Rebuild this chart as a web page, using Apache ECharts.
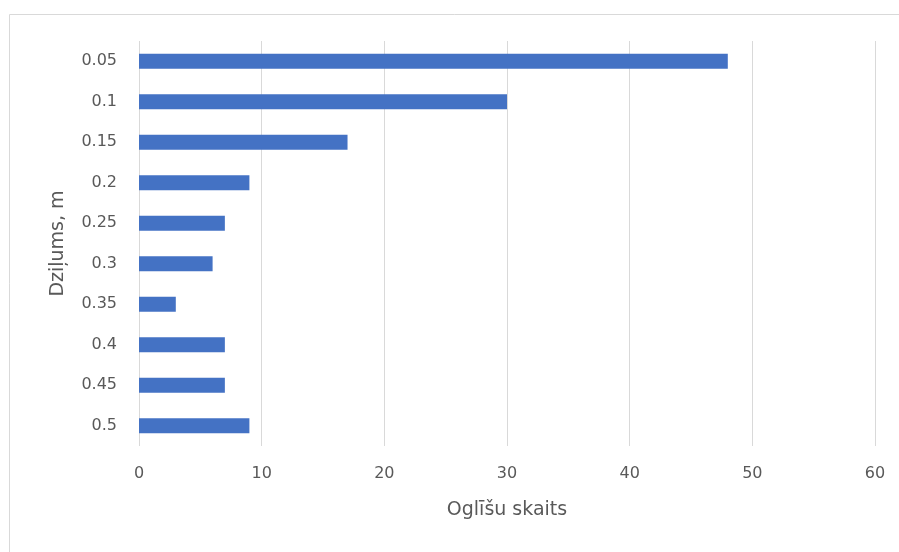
<!DOCTYPE html>
<html><head><meta charset="utf-8">
<script src="https://cdn.jsdelivr.net/npm/echarts@6/dist/echarts.min.js"></script>
<style>html,body{margin:0;padding:0;background:#fff}#c{width:899px;height:552px}</style>
</head><body><div id="c"></div>
<script>
const categories = ['0.05','0.1','0.15','0.2','0.25','0.3','0.35','0.4','0.45','0.5'];
const values = [48, 30, 17, 9, 7, 6, 3, 7, 7, 9];
const xTicks = [0, 10, 20, 30, 40, 50, 60];

const chart = echarts.init(document.getElementById('c'));
const font = '"DejaVu Sans", sans-serif';
chart.setOption({
  animation: false,
  graphic: [{type:'rect', shape:{x:9.5,y:14.5,width:1000,height:1000}, style:{fill:'none', stroke:'#d9d9d9', lineWidth:1}, silent:true, z:-1}],
  grid: {left:139, right:24, top:41, bottom:106},
  xAxis: {
    type:'value', min:xTicks[0], max:xTicks[xTicks.length-1], interval:10,
    axisLine:{show:false}, axisTick:{show:false},
    splitLine:{lineStyle:{color:'#d9d9d9', width:1}},
    axisLabel:{color:'#595959', fontSize:16, fontFamily:font, margin:20},
    name:'Oglīšu skaits', nameLocation:'middle', nameGap:55,
    nameTextStyle:{color:'#595959', fontSize:19, fontFamily:font}
  },
  yAxis: {
    type:'category', data:categories, inverse:true,
    axisLine:{show:false}, axisTick:{show:false},
    axisLabel:{color:'#595959', fontSize:16, fontFamily:font, margin:22},
    name:'Dziļums, m', nameLocation:'middle', nameGap:71,
    nameTextStyle:{color:'#595959', fontSize:19, fontFamily:font}
  },
  series: [{type:'bar', data:values, barWidth:15, itemStyle:{color:'#4472C4'}}]
});
</script></body></html>
